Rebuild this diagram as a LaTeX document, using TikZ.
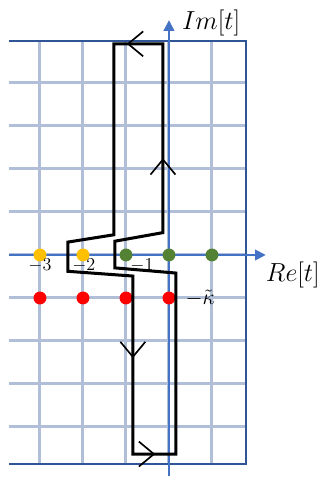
\documentclass[tikz,border=0pt]{standalone}
\usepackage{amsmath}
\usetikzlibrary{arrows.meta, positioning, calc}
\definecolor{gridblue}{RGB}{176,190,216}
\definecolor{axisblue}{RGB}{68,114,196}
\definecolor{frameblue}{RGB}{47,85,151}
\definecolor{poleyellow}{RGB}{255,192,0}
\definecolor{polegreen}{RGB}{84,130,53}
\definecolor{polered}{RGB}{255,0,0}

\begin{document}
\begin{tikzpicture}[
	gridline/.style = {draw=gridblue, line width=2pt},
	frame/.style    = {draw=frameblue, line width=0.9pt},
	axis/.style     = {draw=axisblue, line width=1.2pt, -{Triangle[length=7pt,width=7pt]}},
	contour/.style  = {draw=black, line width=2pt, line join=miter},
	pole/.style     = {circle, inner sep=0pt, minimum size=0.3cm},
	chev/.pic       = {\draw[line width=1.1pt] (-0.35,0.29) -- (0,0) -- (-0.35,-0.29);}
	]
	\useasboundingbox (-3.93,-5.21) rectangle (3.628,5.93);
	
	%% ── Grid ──────────────────────────────────────────────────────
	\foreach \x in {-3,-2,-1,0,1}
	\draw[gridline] (\x,-4.86) -- (\x,4.98);
	\foreach \y in {-4,...,4}
	\draw[gridline] (-3.72,\y) -- (1.79,\y);
	\draw[frame] (-3.72,4.98) -- (1.79,4.98) -- (1.79,-4.86) -- (-3.72,-4.86);
	
	%% ── Axes ──────────────────────────────────────────────────────
	\draw[axis] (-3.72,0) -- (2.25,0) coordinate (re);
	\draw[axis] (0,-5.14) -- (0,5.46) coordinate (im);
	\node (imlbl) at (0.98,5.40) {\LARGE $Im[t]$};
	\node (relbl) at (2.88,-0.47) {\LARGE $Re[t]$};
	
	%% ── Poles ─────────────────────────────────────────────────────
	\foreach \x/\c in {-3/poleyellow, -2/poleyellow, -1/polegreen, 0/polegreen, 1/polegreen}
	\node[pole, fill=\c] (p\x) at (\x,0) {};
	\foreach \x in {-3,...,0}
	\node[pole, fill=polered] (k\x) at (\x,-1) {};
	
	\node (lbl3) at (-3,-0.25) {\large $-3$};
	\node (lbl2) at (-1.98,-0.25) {\large $-2$};
	\node (lbl1) at (-0.63,-0.25) {\large $-1$};
	\node[right=3pt of k0] (kap) {\Large $-\tilde{\kappa}$};
	
	%% ── Contour ───────────────────────────────────────────────────
	\draw[contour] (-1.28,4.91) -- (-0.14,4.91) -- (-0.14,0.52) -- (-1.26,0.32)
	-- (-1.26,-0.30) -- (0.16,-0.42) -- (0.16,-4.63) -- (-0.84,-4.63)
	-- (-0.84,-0.49) -- (-2.35,-0.38) -- (-2.35,0.30) -- (-1.28,0.47) -- cycle;
	
	% direction marks
	\pic[rotate=180] at (-0.95,4.91) {chev};
	\pic[rotate=90]  at (-0.14,2.22) {chev};
	\pic[rotate=-90] at (-0.84,-2.37) {chev};
	\pic             at (-0.35,-4.63) {chev};
	
\end{tikzpicture}
\end{document}
